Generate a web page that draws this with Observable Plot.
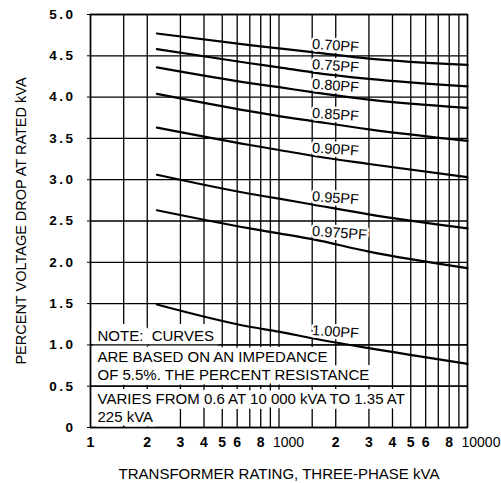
<!DOCTYPE html>
<html>
<head>
<meta charset="utf-8">
<script src="https://cdn.jsdelivr.net/npm/d3@7"></script>
<script src="https://cdn.jsdelivr.net/npm/@observablehq/plot@0.6"></script>
<style>
  html, body { margin: 0; padding: 0; background: #fff; }
  #chart svg { display: block; }
</style>
</head>
<body>
<div id="chart"></div>
<script>
// ---- data ----
const kva = [225, 700, 1000, 1500, 3000, 10000];
const pfNames = ["0.70PF", "0.75PF", "0.80PF", "0.85PF", "0.90PF", "0.95PF", "0.975PF", "1.00PF"];
const pf070  = [4.77, 4.63, 4.59, 4.545, 4.465, 4.39];
const pf075  = [4.58, 4.41, 4.36, 4.30, 4.22, 4.13];
const pf080  = [4.36, 4.17, 4.12, 4.06, 3.97, 3.87];
const pf085  = [4.04, 3.83, 3.77, 3.71, 3.61, 3.47];
const pf090  = [3.63, 3.42, 3.36, 3.29, 3.19, 3.03];
const pf095  = [3.06, 2.83, 2.77, 2.70, 2.58, 2.41];
const pf0975 = [2.63, 2.41, 2.35, 2.28, 2.13, 1.93];
const pf100  = [1.49, 1.22, 1.16, 1.08, 0.96, 0.77];
const gridX = [100, 150, 200, 300, 400, 500, 600, 700, 800, 900, 1000, 1500, 2000, 3000, 4000, 5000, 6000, 7000, 8000, 9000, 10000];
const gridY = [0, 0.5, 1.0, 1.5, 2.0, 2.5, 3.0, 3.5, 4.0, 4.5, 5.0];
const xTicks = [100, 200, 300, 400, 500, 600, 800, 2000, 3000, 4000, 5000, 6000, 8000];
const xTickLabels = ["1", "2", "3", "4", "5", "6", "8", "2", "3", "4", "5", "6", "8"];
const xDecadeTicks = [1000, 10000];
const xDecadeLabels = ["1000", "10000"];
const yTicks = [0, 0.5, 1.0, 1.5, 2.0, 2.5, 3.0, 3.5, 4.0, 4.5, 5.0];
const noteLines = [
  "NOTE:  CURVES",
  "ARE BASED ON AN IMPEDANCE",
  "OF 5.5%. THE PERCENT RESISTANCE",
  "VARIES FROM 0.6 AT 10 000 kVA TO 1.35 AT",
  "225 kVA"
];

const series = [pf070, pf075, pf080, pf085, pf090, pf095, pf0975, pf100];
const rows = pfNames.flatMap((name, i) => kva.map((k, j) => ({pf: name, kva: k, v: series[i][j]})));
const labelRows = pfNames.map((name, i) => ({pf: name, kva: kva[3], v: series[i][3]}));
const xLabelOf = new Map(xTicks.map((t, i) => [t, xTickLabels[i]]));
const xDecadeOf = new Map(xDecadeTicks.map((t, i) => [t, xDecadeLabels[i]]));

const font = "'Liberation Sans', Arial, Helvetica, sans-serif";
const noteY = [1.10, 0.85, 0.63, 0.34, 0.12];
const noteHalo = [14, 10, 10, 10, 10];

const chart = Plot.plot({
  width: 501,
  height: 483,
  marginLeft: 90,
  marginRight: 34,
  marginTop: 14,
  marginBottom: 56,
  style: {fontFamily: font, background: "#fff", color: "#000"},
  x: {type: "log", domain: [100, 10000]},
  y: {domain: [0, 5]},
  marks: [
    Plot.ruleX(gridX, {stroke: "#000", strokeWidth: 1.3}),
    Plot.ruleY(gridY, {stroke: "#000", strokeWidth: 1.3}),
    Plot.line(rows, {x: "kva", y: "v", z: "pf", curve: "monotone-x", stroke: "#000", strokeWidth: 2.2}),
    Plot.text(labelRows, {x: "kva", y: "v", text: "pf", textAnchor: "start", dy: -8, rotate: 4,
      fontSize: 14.5, fill: "#000", stroke: "#fff", strokeWidth: 5}),
    ...noteLines.map((t, i) => Plot.text([t], {x: 100, y: noteY[i], text: d => d, textAnchor: "start", dx: 7,
      fontSize: 15, fill: "#000", stroke: "#fff", strokeWidth: noteHalo[i], strokeLinejoin: "round"})),
    Plot.ruleY([0.5, 1.0], {x1: 100, x2: 10000, stroke: "#000", strokeWidth: 1.3}),
    Plot.frame({stroke: "#000", strokeWidth: 1.5}),
    Plot.text(xTicks, {x: d => d, text: d => xLabelOf.get(d), frameAnchor: "bottom", lineAnchor: "top",
      dy: 10, fontSize: 14, fontWeight: "bold", fill: "#000"}),
    Plot.text(xDecadeTicks, {x: d => d, text: d => xDecadeOf.get(d), frameAnchor: "bottom", lineAnchor: "top",
      textAnchor: "start", dx: -6, dy: 10, fontSize: 14, fill: "#000"}),
    Plot.axisX({ticks: [], label: "TRANSFORMER RATING, THREE-PHASE kVA", labelAnchor: "center",
      labelArrow: "none", labelOffset: 51, fontSize: 15}),
    Plot.axisY(yTicks, {tickSize: 3, tickPadding: 12, fontSize: 13.5, fontWeight: "bold",
      tickFormat: d => d === 0 ? "0" : d3.format(".1f")(d), label: null}),
    Plot.axisY({ticks: [], label: "PERCENT VOLTAGE DROP AT RATED kVA", labelAnchor: "center",
      labelArrow: "none", labelOffset: 75, fontSize: 14.5})
  ]
});
d3.select(chart).selectAll("g[aria-label='y-axis tick label'] text").style("letter-spacing", "2.5px");
document.getElementById("chart").appendChild(chart);
</script>
</body>
</html>
